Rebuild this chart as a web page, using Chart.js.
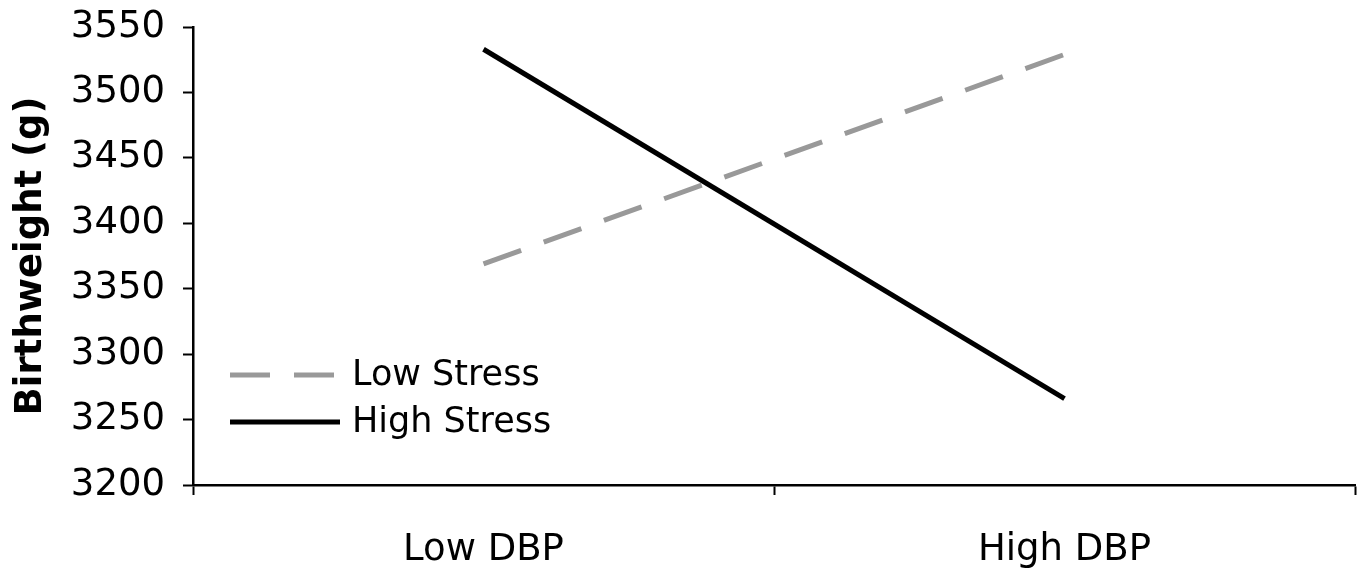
<!DOCTYPE html>
<html>
<head>
<meta charset="utf-8">
<script src="https://cdn.jsdelivr.net/npm/chart.js@4"></script>
<style>
  html, body { margin: 0; padding: 0; background: #fff; }
  #wrap { width: 1361px; height: 570px; }
</style>
</head>
<body>
<div id="wrap"><canvas id="chart" width="1361" height="570"></canvas></div>
<script>
const categories = ['Low DBP', 'High DBP'];
const lowStress = [3369, 3529];
const highStress = [3533, 3266];
const yTicks = [3200, 3250, 3300, 3350, 3400, 3450, 3500, 3550];

const FONT = 'DejaVu Sans, Verdana, sans-serif';

// legend drawn inside the plot area, bottom left
const innerLegend = {
  id: 'innerLegend',
  afterDraw(chart) {
    const ctx = chart.ctx;
    const x0 = chart.chartArea.left + 37;
    const rows = [chart.data.datasets[0], chart.data.datasets[1]];
    const ys = [375, 422];
    ctx.save();
    rows.forEach((ds, i) => {
      ctx.beginPath();
      ctx.strokeStyle = ds.borderColor;
      ctx.lineWidth = ds.borderWidth;
      ctx.setLineDash(ds.borderDash || []);
      ctx.moveTo(x0, ys[i]);
      ctx.lineTo(x0 + 110, ys[i]);
      ctx.stroke();
      ctx.setLineDash([]);
      ctx.fillStyle = '#000';
      ctx.font = '35px ' + FONT;
      ctx.textBaseline = 'middle';
      ctx.fillText(ds.label, x0 + 122, ys[i] + 1);
    });
    ctx.restore();
  }
};

new Chart(document.getElementById('chart'), {
  type: 'line',
  data: {
    labels: categories,
    datasets: [
      {
        label: 'Low Stress',
        data: lowStress,
        borderColor: '#999999',
        borderWidth: 5,
        borderDash: [40, 24],
        pointRadius: 0,
        fill: false
      },
      {
        label: 'High Stress',
        data: highStress,
        borderColor: '#000000',
        borderWidth: 5,
        pointRadius: 0,
        fill: false
      }
    ]
  },
  options: {
    responsive: false,
    animation: false,
    layout: { padding: { top: 27, right: 6, left: 0, bottom: 0 } },
    plugins: {
      legend: { display: false },
      tooltip: { enabled: false }
    },
    scales: {
      x: {
        offset: true,
        afterFit(axis) { axis.height = 85; },
        grid: { offset: true, drawOnChartArea: false, tickLength: 10, tickColor: '#000', tickWidth: 2 },
        border: { color: '#000', width: 2.5 },
        ticks: { color: '#000', font: { family: FONT, size: 37 }, padding: 33 }
      },
      y: {
        min: 3200,
        max: 3550,
        afterBuildTicks(axis) { axis.ticks = yTicks.map(v => ({ value: v })); },
        afterFit(axis) {
          axis.width = 193;
          axis.paddingTop = 0;
          axis.paddingBottom = 0;
        },
        grid: { drawOnChartArea: false, tickLength: 10, tickColor: '#000', tickWidth: 2 },
        border: { color: '#000', width: 2.5 },
        ticks: {
          color: '#000',
          font: { family: FONT, size: 37 },
          padding: 18,
          callback: v => String(v)
        },
        title: {
          display: true,
          text: 'Birthweight (g)',
          color: '#000',
          font: { family: FONT, size: 37, weight: 'bold' },
          padding: { top: 9, bottom: 0 }
        }
      }
    }
  },
  plugins: [innerLegend]
});
</script>
</body>
</html>
